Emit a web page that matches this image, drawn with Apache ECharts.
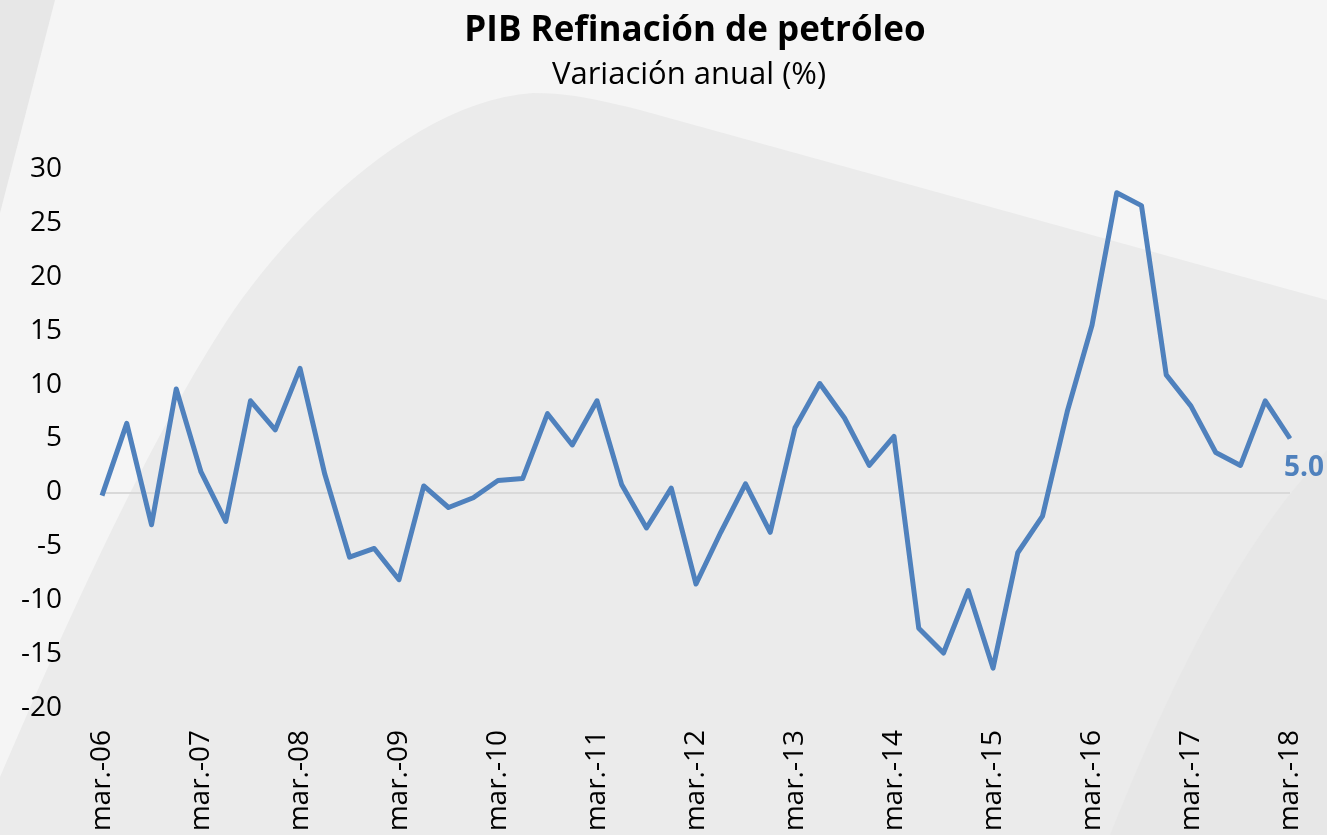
<!DOCTYPE html>
<html>
<head>
<meta charset="utf-8">
<script src="https://cdn.jsdelivr.net/npm/echarts@6/dist/echarts.min.js"></script>
<style>
html,body{margin:0;padding:0;background:#f5f5f5;}
#chart{width:1327px;height:835px;}
</style>
</head>
<body>
<div id="chart"></div>
<script>
// Quarterly categories (mar-06 .. mar-18)
const years = ['06','07','08','09','10','11','12','13','14','15','16','17','18'];
const quarters = ['mar.','jun.','sep.','dic.'];
const categories = [];
years.forEach((y, i) => {
  quarters.forEach((q, j) => {
    if (i === years.length - 1 && j > 0) return;
    categories.push(q + '-' + y);
  });
});

// Annual variation (%)
const values = [
  -0.3, 6.4, -3.0, 9.6, 1.9, -2.7, 8.5, 5.8,
  11.5, 1.7, -6.0, -5.2, -8.1, 0.6, -1.4, -0.5,
  1.1, 1.3, 7.3, 4.4, 8.5, 0.7, -3.3, 0.4,
  -8.5, -3.7, 0.8, -3.7, 6.0, 10.1, 6.9, 2.5,
  5.2, -12.6, -14.9, -9.1, -16.3, -5.6, -2.2, 7.5,
  15.5, 27.8, 26.6, 10.9, 8.0, 3.7, 2.5, 8.5,
  5.0
];

const yTicks = { min: -20, max: 30, interval: 5 };
const titleText = 'PIB Refinación de petróleo';
const subtitleText = 'Variación anual (%)';

const FONT = '"Open Sans", Lato, sans-serif';

// decorative background shapes (sampled cubic curves -> polygons)
function cubic(p0, p1, p2, p3, n) {
  const pts = [];
  for (let k = 1; k <= n; k++) {
    const t = k / n, u = 1 - t;
    pts.push([
      u*u*u*p0[0] + 3*u*u*t*p1[0] + 3*u*t*t*p2[0] + t*t*t*p3[0],
      u*u*u*p0[1] + 3*u*u*t*p1[1] + 3*u*t*t*p2[1] + t*t*t*p3[1]
    ]);
  }
  return pts;
}
const bigShape = [[-25, 835], [0, 777]]
  .concat(cubic([0,777],[80,590],[160,420],[234,310], 24))
  .concat(cubic([234,310],[300,215],[420,100],[533,93], 24))
  .concat(cubic([533,93],[570,93],[600,100],[640,110], 10))
  .concat([[1327, 300], [1327, 835]]);
const brShape = [[1327, 450], [1295, 488]]
  .concat(cubic([1295,488],[1220,580],[1160,710],[1110,835], 20))
  .concat([[1327, 835]]);
const tlShape = [[0, 0], [55, 0], [0, 213]];

const lastIdx = values.length - 1;
const seriesData = values.map((v, i) => i === lastIdx ? {
  value: v,
  symbol: 'circle',
  symbolSize: 1,
  label: {
    show: true,
    position: 'inside',
    offset: [14, 30],
    formatter: (p) => p.value.toFixed(1),
    color: '#4f81bd',
    fontWeight: 'bold',
    fontSize: 28,
    fontFamily: FONT
  }
} : v);

const chart = echarts.init(document.getElementById('chart'));
chart.setOption({
  backgroundColor: '#f5f5f5',
  animation: false,
  graphic: [
    { type: 'polygon', z: -10, silent: true, shape: { points: tlShape }, style: { fill: '#e7e7e7' } },
    { type: 'polygon', z: -10, silent: true, shape: { points: bigShape }, style: { fill: '#ebebeb' } },
    { type: 'polygon', z: -9, silent: true, shape: { points: brShape }, style: { fill: '#e7e7e7' } }
  ],
  title: [
    { text: titleText, left: 690, top: 9, textAlign: 'center',
      textStyle: { fontFamily: FONT, fontWeight: 'bold', fontSize: 35, color: '#000' } },
    { text: subtitleText, left: 684, top: 55, textAlign: 'center',
      textStyle: { fontFamily: FONT, fontWeight: 'normal', fontSize: 31, color: '#000' } }
  ],
  grid: { left: 102, right: 37, top: 169, bottom: 127, containLabel: false },
  xAxis: {
    type: 'category',
    data: categories,
    boundaryGap: false,
    axisLine: { show: false },
    axisTick: { show: false },
    splitLine: { show: false },
    axisLabel: {
      interval: 3,
      rotate: 90,
      margin: 22,
      fontSize: 28,
      fontFamily: FONT,
      color: '#000'
    }
  },
  yAxis: {
    type: 'value',
    min: yTicks.min,
    max: yTicks.max,
    interval: yTicks.interval,
    axisLine: { show: false },
    axisTick: { show: false },
    splitLine: { show: false },
    axisLabel: { margin: 40, fontSize: 28, fontFamily: FONT, color: '#000' }
  },
  series: [{
    type: 'line',
    data: seriesData,
    symbol: 'none',
    showSymbol: true,
    lineStyle: { color: '#4f81bd', width: 5, join: 'round' },
    itemStyle: { color: '#4f81bd' },
    z: 5,
    markLine: {
      silent: true,
      symbol: 'none',
      label: { show: false },
      lineStyle: { color: '#d9d9d9', width: 2, type: 'solid' },
      data: [{ yAxis: 0 }],
      z: 1
    }
  }]
});
</script>
</body>
</html>
